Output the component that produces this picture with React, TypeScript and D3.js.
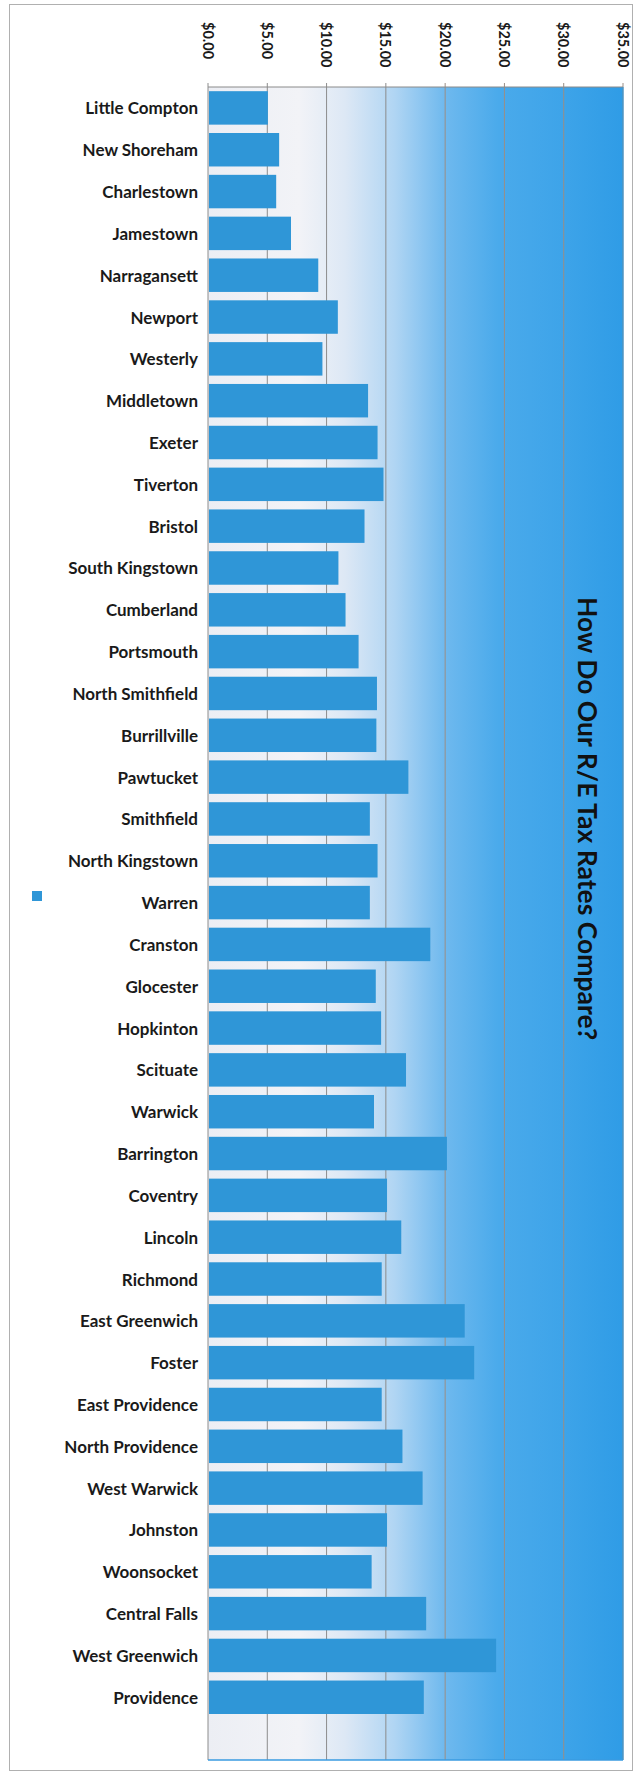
import React from "react";
import * as d3 from "d3";

const towns = [
  "Little Compton", "New Shoreham", "Charlestown", "Jamestown", "Narragansett",
  "Newport", "Westerly", "Middletown", "Exeter", "Tiverton", "Bristol",
  "South Kingstown", "Cumberland", "Portsmouth", "North Smithfield", "Burrillville",
  "Pawtucket", "Smithfield", "North Kingstown", "Warren", "Cranston", "Glocester",
  "Hopkinton", "Scituate", "Warwick", "Barrington", "Coventry", "Lincoln",
  "Richmond", "East Greenwich", "Foster", "East Providence", "North Providence",
  "West Warwick", "Johnston", "Woonsocket", "Central Falls", "West Greenwich",
  "Providence",
];

const rates = [
  5.05, 6.0, 5.75, 7.0, 9.3, 10.95, 9.65, 13.5, 14.3, 14.8, 13.2, 11.0, 11.6,
  12.7, 14.25, 14.2, 16.9, 13.65, 14.3, 13.65, 18.75, 14.15, 14.6, 16.7, 14.0,
  20.15, 15.1, 16.3, 14.65, 21.65, 22.45, 14.65, 16.4, 18.1, 15.1, 13.8, 18.4,
  24.3, 18.2,
];

const tickValues = [0, 5, 10, 15, 20, 25, 30, 35];
const title = "How Do Our R/E Tax Rates Compare?";

const W = 634;
const H = 1775;
const plot = { left: 208, right: 623, top: 87, bottom: 1760 };

export default function App() {
  const x = d3.scaleLinear().domain([0, 35]).range([plot.left, plot.right]);
  const y = d3
    .scaleBand<string>()
    .domain([...towns, " "])
    .range([plot.top, plot.bottom])
    .paddingInner(0.2)
    .paddingOuter(0.1);
  const fmt = (v: number) => "$" + d3.format(".2f")(v);

  return (
    <svg
      width={W}
      height={H}
      style={{ position: "absolute", left: 0, top: 0, background: "#fff" }}
    >
      <defs>
        <linearGradient id="bg" x1="0" x2="1" y1="0" y2="0">
          <stop offset="0%" stopColor="#eceef4" />
          <stop offset="22%" stopColor="#f2f3f7" />
          <stop offset="33%" stopColor="#dde8f5" />
          <stop offset="45%" stopColor="#b0d5f3" />
          <stop offset="57%" stopColor="#6fb9ee" />
          <stop offset="70%" stopColor="#4aaaeb" />
          <stop offset="85%" stopColor="#3ea4e9" />
          <stop offset="100%" stopColor="#2f9ce6" />
        </linearGradient>
      </defs>

      {/* outer frame */}
      <rect x={9.5} y={4.5} width={W - 11} height={H - 9} fill="none" stroke="#b0b0b0" strokeWidth={1} />

      {/* plot background */}
      <rect
        x={plot.left}
        y={plot.top}
        width={plot.right - plot.left}
        height={plot.bottom - plot.top}
        fill="url(#bg)"
      />

      {/* gridlines */}
      {tickValues.map((t) => (
        <line
          key={"g" + t}
          x1={x(t)}
          x2={x(t)}
          y1={plot.top - 4}
          y2={plot.bottom}
          stroke={t >= 20 ? "#9a8e86" : "#8c8c8c"}
          strokeWidth={1}
        />
      ))}
      <line x1={plot.left} x2={plot.right} y1={plot.top} y2={plot.top} stroke="#8a8a8a" strokeWidth={1} />
      <line x1={plot.left} x2={plot.right} y1={plot.bottom} y2={plot.bottom} stroke="#3a9be0" strokeWidth={1.5} />
      <line x1={plot.right} x2={plot.right} y1={plot.top} y2={plot.bottom} stroke="#2a96dd" strokeWidth={1} />

      {/* bars */}
      {towns.map((t, i) => (
        <rect
          key={t}
          x={x(0) + 1}
          y={y(t)}
          width={x(rates[i]) - x(0) - 1}
          height={y.bandwidth()}
          fill="#2f96d7"
        />
      ))}

      {/* category labels */}
      {towns.map((t) => (
        <text
          key={"l" + t}
          x={plot.left - 10}
          y={(y(t) ?? 0) + y.bandwidth() / 2}
          textAnchor="end"
          dominantBaseline="central"
          fontFamily="Lato, 'Open Sans', sans-serif"
          fontWeight="bold"
          fontSize={17}
          fill="#1a1a1a"
        >
          {t}
        </text>
      ))}

      {/* tick labels */}
      {tickValues.map((t) => (
        <text
          key={"t" + t}
          transform={`translate(${x(t)},22) rotate(90)`}
          textAnchor="start"
          dominantBaseline="central"
          fontFamily="Lato, 'Open Sans', sans-serif"
          fontWeight="bold"
          fontSize={14.5}
          fill="#1a1a1a"
        >
          {fmt(t)}
        </text>
      ))}

      {/* legend marker */}
      <rect x={32} y={891} width={10} height={10} fill="#2f96d7" />

      {/* title */}
      <text
        transform={`translate(588,597) rotate(90)`}
        textAnchor="start"
        dominantBaseline="central"
        fontFamily="Lato, 'Open Sans', sans-serif"
        fontWeight="bold"
        fontSize={26.5}
        fill="#111"
      >
        {title}
      </text>
    </svg>
  );
}
